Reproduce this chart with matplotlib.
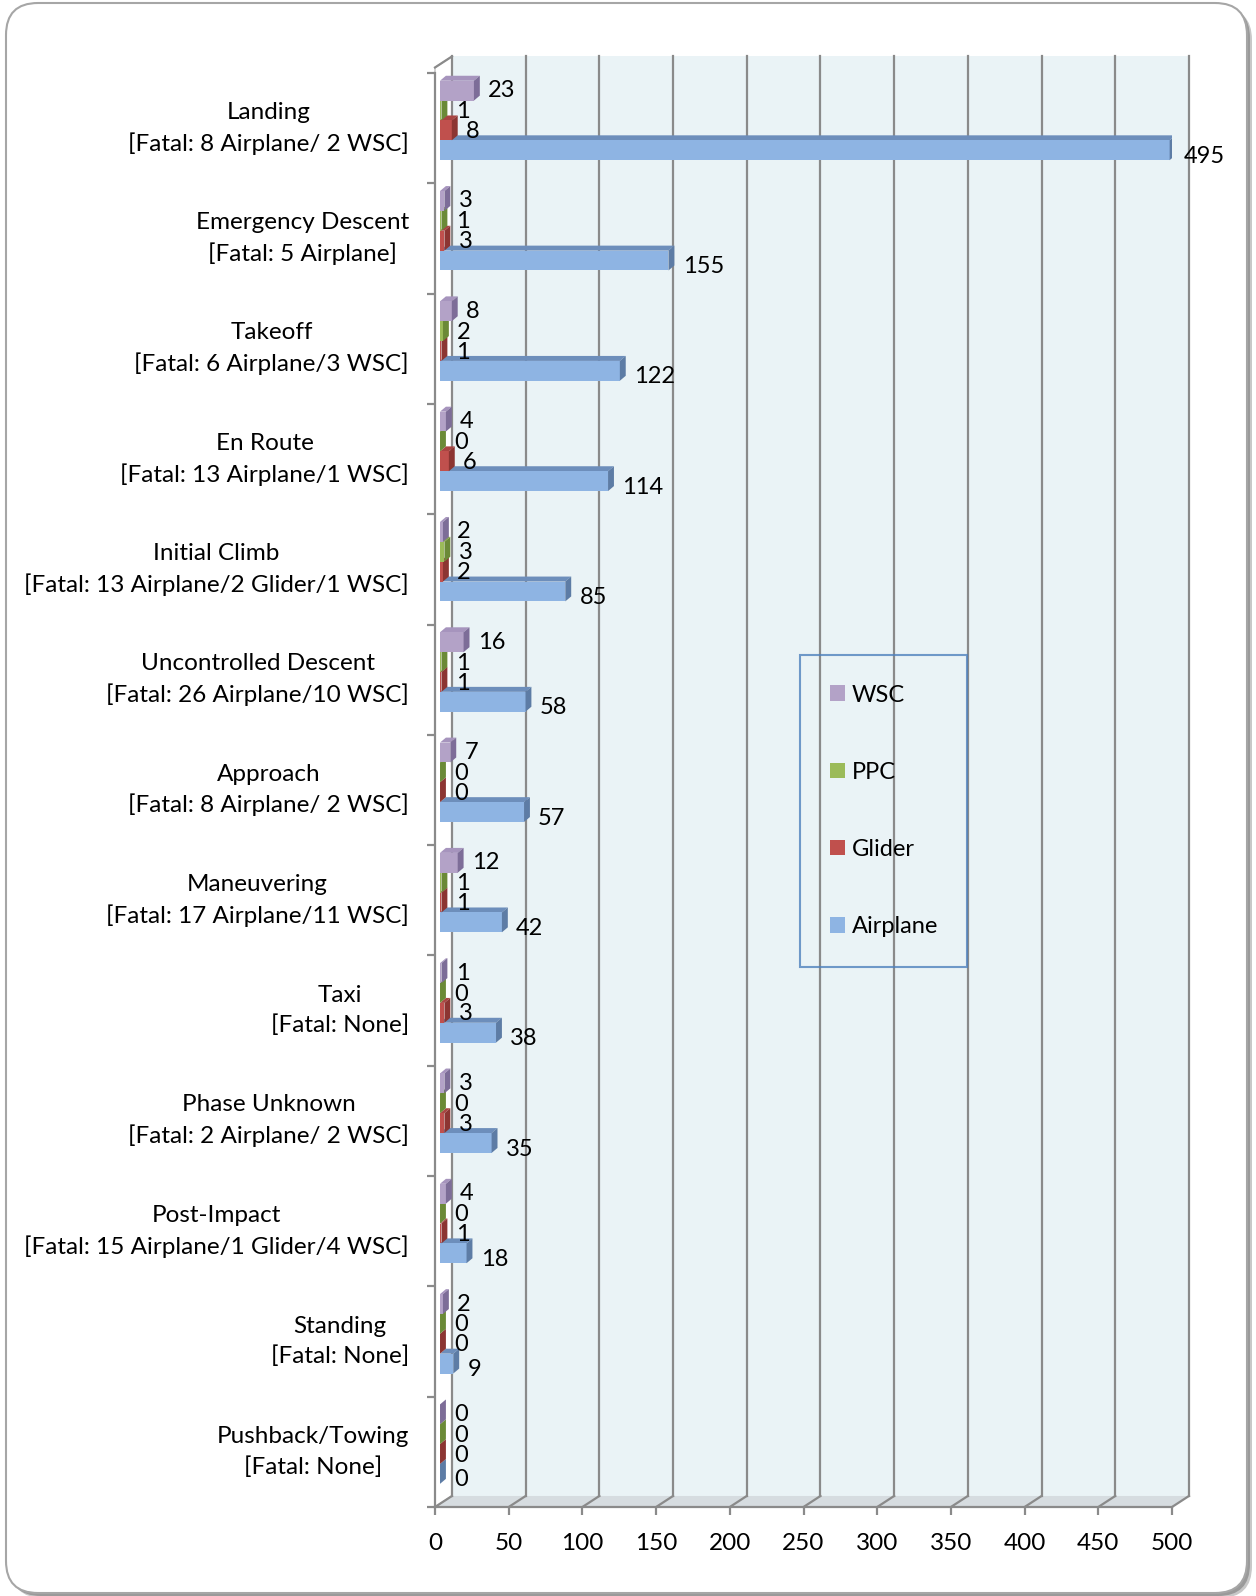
import matplotlib.pyplot as plt
from matplotlib.patches import Polygon, Patch, FancyBboxPatch

plt.rcParams['font.family'] = ['Lato', 'DejaVu Sans']

# data (top group first)
phases = ["Landing\n[Fatal: 8 Airplane/ 2 WSC]",
          "Emergency Descent\n[Fatal: 5 Airplane]",
          "Takeoff\n[Fatal: 6 Airplane/3 WSC]",
          "En Route\n[Fatal: 13 Airplane/1 WSC]",
          "Initial Climb\n[Fatal: 13 Airplane/2 Glider/1 WSC]",
          "Uncontrolled Descent\n[Fatal: 26 Airplane/10 WSC]",
          "Approach\n[Fatal: 8 Airplane/ 2 WSC]",
          "Maneuvering\n[Fatal: 17 Airplane/11 WSC]",
          "Taxi\n[Fatal: None]",
          "Phase Unknown\n[Fatal: 2 Airplane/ 2 WSC]",
          "Post-Impact\n[Fatal: 15 Airplane/1 Glider/4 WSC]",
          "Standing\n[Fatal: None]",
          "Pushback/Towing\n[Fatal: None]"]
wsc = [23, 3, 8, 4, 2, 16, 7, 12, 1, 3, 4, 2, 0]
ppc = [1, 1, 2, 0, 3, 1, 0, 1, 0, 0, 0, 0, 0]
glider = [8, 3, 1, 6, 2, 1, 0, 1, 3, 3, 1, 0, 0]
airplane = [495, 155, 122, 114, 85, 58, 57, 42, 38, 35, 18, 9, 0]
series_names = ["WSC", "PPC", "Glider", "Airplane"]
xticks = list(range(0, 501, 50))

# face colours: front, top, side
faces = {"WSC": ("#B3A2C7", "#A694BD", "#7D6D98"),
         "PPC": ("#9BBB59", "#86A34A", "#6B8A37"),
         "Glider": ("#C0504D", "#A94542", "#8C3532"),
         "Airplane": ("#8EB4E3", "#6D8EBB", "#5D7CA5")}
label_shift = [0.0, -0.01, -0.01, -0.055]

fig = plt.figure(figsize=(12.56, 15.96), dpi=100)

# outer rounded frame with shadow
for off, col in [(0.05, "#C8C8C8"), (0.03, "#9A9A9A")]:
    fig.patches.append(FancyBboxPatch((0.06 + off, 0.03 - off), 12.41, 15.90,
                                      boxstyle="round,pad=0,rounding_size=0.32",
                                      transform=fig.dpi_scale_trans, fc=col, ec="none",
                                      zorder=-2))
fig.patches.append(FancyBboxPatch((0.06, 0.03), 12.41, 15.90,
                                  boxstyle="round,pad=0,rounding_size=0.32",
                                  transform=fig.dpi_scale_trans, fc="white",
                                  ec="#A6A6A6", lw=1.5, zorder=-1))

ax = fig.add_axes([435 / 1256, 89 / 1596, 737 / 1256, 1434 / 1596])
ax.set_xlim(0, 500)
ax.set_ylim(0, 13)
ax.patch.set_visible(False)

n = len(phases)
gdx, gdy = 11.5, 0.1     # wall depth
bdx, bdy = 4.0, 0.045    # bar depth
x0 = 3.4
bh = 0.18
grid = "#8A8A8A"

# walls and floor
ax.add_patch(Polygon([(gdx, gdy), (500 + gdx, gdy), (500 + gdx, n + 0.15), (gdx, n + 0.15)],
                     closed=True, fc="#EAF3F6", ec="none", zorder=0, clip_on=False))
ax.add_patch(Polygon([(0, 0), (500, 0), (500 + gdx, gdy), (gdx, gdy)],
                     closed=True, fc="#D6DCE0", ec="none", zorder=0, clip_on=False))
ax.add_patch(Polygon([(0, 0), (gdx, gdy), (gdx, n + 0.15), (0, n + 0.05)],
                     closed=True, fc="white", ec="#BFBFBF", lw=1, zorder=0.5, clip_on=False))
for t in xticks:
    ax.plot([t + gdx, t + gdx], [gdy, n + 0.15], color=grid, lw=1.6, zorder=1, clip_on=False)
    ax.plot([t, t + gdx], [0, gdy], color=grid, lw=1.6, zorder=1, clip_on=False)
ax.plot([0, gdx], [n + 0.05, n + 0.15], color=grid, lw=1.6, clip_on=False)

# bars
data = [wsc, ppc, glider, airplane]
for i in range(n):
    top_g = n - i
    for j in range(3, -1, -1):
        name = series_names[j]
        v = data[j][i]
        front, topc, side = faces[name]
        top = top_g - 0.07 - j * bh
        bot = top - bh
        z = 3 + (3 - j) * 0.1 + i * 0.001
        ax.barh((top + bot) / 2, v, height=bh, left=x0, color=front, zorder=z + 0.02)
        ax.add_patch(Polygon([(x0, top), (x0 + bdx, top + bdy), (x0 + v + bdx, top + bdy), (x0 + v, top)],
                             closed=True, fc=topc, ec="none", zorder=z + 0.01))
        ax.add_patch(Polygon([(x0 + v, top), (x0 + v + bdx, top + bdy), (x0 + v + bdx, bot + bdy), (x0 + v, bot)],
                             closed=True, fc=side, ec="none", zorder=z + 0.03))
        ax.text(x0 + v + 9.6, (top + bot) / 2 + label_shift[j], str(v), ha="left", va="center",
                fontsize=17, color="black", zorder=10)
    ax.text(-17.6, top_g - 0.5, phases[i], ha="right", va="center", multialignment="center",
            fontsize=17.5, linespacing=1.5)

# axes lines and ticks
for s in ["top", "right"]:
    ax.spines[s].set_visible(False)
for s in ["left", "bottom"]:
    ax.spines[s].set_color(grid)
    ax.spines[s].set_linewidth(1.6)
ax.set_xticks(xticks)
ax.set_xticklabels([str(t) for t in xticks], fontsize=17.5)
ax.set_yticks(range(n + 1))
ax.set_yticklabels([])
ax.tick_params(axis="both", colors=grid, length=6, width=1.6, labelcolor="black")
ax.tick_params(axis="x", pad=13)

# legend
handles = [Patch(fc=faces[s][0], ec="none", label=s) for s in series_names]
leg_top = 1 - 655 / 1596
leg = ax.legend(handles=handles, loc="upper left",
                bbox_to_anchor=(800 / 1256, leg_top - 0.05, 167 / 1256, 0.05),
                bbox_transform=fig.transFigure, mode="expand", frameon=True,
                fancybox=False, edgecolor="#4F81BD", facecolor="none", fontsize=17,
                handlelength=0.65, handleheight=0.65, handletextpad=0.3,
                labelspacing=2.38, borderpad=1.25, borderaxespad=0)
leg.get_frame().set_linewidth(1.5)
leg.set_zorder(20)

fig.savefig("out.png", dpi=100)
